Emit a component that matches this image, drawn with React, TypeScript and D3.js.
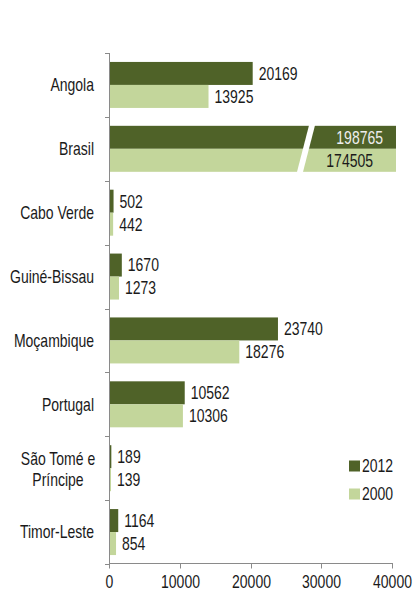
import { useEffect, useRef } from "react";
import * as d3 from "d3";

const categories = [
  "Angola",
  "Brasil",
  "Cabo Verde",
  "Guiné-Bissau",
  "Moçambique",
  "Portugal",
  "São Tomé e Príncipe",
  "Timor-Leste",
];
const values2012 = [20169, 198765, 502, 1670, 23740, 10562, 189, 1164];
const values2000 = [13925, 174505, 442, 1273, 18276, 10306, 139, 854];
const xTicks = [0, 10000, 20000, 30000, 40000];
const seriesNames = ["2012", "2000"];

const DARK = "#4f6228";
const LIGHT = "#c3d69b";
const FONT = "'Liberation Sans', Arial, sans-serif";
const FONT_SIZE = 17.5;
const NARROW = 0.8; // fake Arial Narrow by squeezing Liberation Sans

export default function App() {
  const ref = useRef<SVGSVGElement>(null);

  useEffect(() => {
    const svg = d3.select(ref.current);
    svg.selectAll("*").remove();

    const width = 416;
    const height = 591;
    const margin = { top: 53, right: 23, bottom: 27, left: 110 };
    const xMax = 40000;

    const x = d3
      .scaleLinear()
      .domain([0, xMax])
      .range([margin.left, width - margin.right]);

    const y = d3
      .scaleBand()
      .domain(categories)
      .range([margin.top, height - margin.bottom])
      .paddingInner(0.28)
      .paddingOuter(0.14);

    const bandStep = y.step();
    const barH = y.bandwidth() / 2;
    const axisColor = "#8a8a8a";

    // narrow text helper
    const addText = (
      parent: d3.Selection<any, unknown, null, undefined>,
      tx: number,
      ty: number,
      str: string,
      anchor: string,
      fill = "#1a1a1a"
    ) =>
      parent
        .append("text")
        .attr("transform", `translate(${tx},${ty}) scale(${NARROW},1)`)
        .attr("text-anchor", anchor)
        .attr("dy", "0.36em")
        .attr("font-family", FONT)
        .attr("font-size", FONT_SIZE)
        .attr("fill", fill)
        .text(str);

    // bars
    const g = svg.append("g");
    categories.forEach((c, i) => {
      const y0 = y(c) as number;
      const rows = [
        { v: values2012[i], color: DARK, yy: y0 },
        { v: values2000[i], color: LIGHT, yy: y0 + barH },
      ];
      rows.forEach((r, j) => {
        const clipped = r.v > xMax;
        const w = clipped ? x(xMax) + 3 - x(0) : x(r.v) - x(0);
        g.append("rect")
          .attr("x", x(0))
          .attr("y", r.yy)
          .attr("width", w)
          .attr("height", barH)
          .attr("fill", r.color);
        if (clipped) {
          addText(g, x(xMax) - 10 - j * 10, r.yy + barH / 2, String(r.v), "end", j === 0 ? "#eeeeee" : "#1a1a1a");
        } else {
          addText(g, x(0) + w + 6, r.yy + barH / 2, String(r.v), "start");
        }
      });
      // axis break for values beyond the scale
      if (values2012[i] > xMax || values2000[i] > xMax) {
        const top = y0 - 1;
        const bot = y0 + 2 * barH + 1;
        const xt = x(28150);
        const xb = x(26400);
        g.append("polygon")
          .attr("points", `${xt},${top} ${xt + 6},${top} ${xb + 6},${bot} ${xb},${bot}`)
          .attr("fill", "#ffffff");
      }
    });

    // y axis
    const yAxis = svg.append("g").attr("stroke", axisColor);
    yAxis
      .append("line")
      .attr("x1", x(0) - 0.5)
      .attr("x2", x(0) - 0.5)
      .attr("y1", margin.top)
      .attr("y2", height - margin.bottom);
    d3.range(categories.length + 1).forEach((k) => {
      const yy = Math.round(margin.top + k * bandStep) + 0.5;
      yAxis
        .append("line")
        .attr("x1", x(0) - 5)
        .attr("x2", x(0))
        .attr("y1", yy)
        .attr("y2", yy);
    });

    // category labels
    categories.forEach((c) => {
      const cy = (y(c) as number) + y.bandwidth() / 2;
      if (c === "São Tomé e Príncipe") {
        addText(svg, 58, cy - 10, "São Tomé e", "middle");
        addText(svg, 58, cy + 11, "Príncipe", "middle");
      } else {
        addText(svg, 94, cy, c, "end");
      }
    });

    // x axis
    const axisY = height - margin.bottom - 0.5;
    const xAxis = svg.append("g");
    xAxis
      .append("line")
      .attr("x1", x(0) - 1)
      .attr("x2", x(xMax))
      .attr("y1", axisY)
      .attr("y2", axisY)
      .attr("stroke", axisColor);
    xTicks.forEach((t) => {
      const xx = Math.round(x(t)) - 0.5;
      xAxis
        .append("line")
        .attr("x1", xx)
        .attr("x2", xx)
        .attr("y1", axisY)
        .attr("y2", axisY + 5)
        .attr("stroke", axisColor);
      addText(xAxis, xx, axisY + 18, String(t), "middle");
    });

    // legend
    const legend = svg.append("g");
    seriesNames.forEach((s, i) => {
      const ly = 466 + i * 28;
      legend
        .append("rect")
        .attr("x", 349)
        .attr("y", ly - 5.5)
        .attr("width", 11)
        .attr("height", 11)
        .attr("fill", i === 0 ? DARK : LIGHT);
      addText(legend, 362, ly, s, "start");
    });
  }, []);

  return (
    <svg
      ref={ref}
      width={416}
      height={591}
      style={{ position: "absolute", left: 0, top: 0, background: "#fff" }}
    />
  );
}
